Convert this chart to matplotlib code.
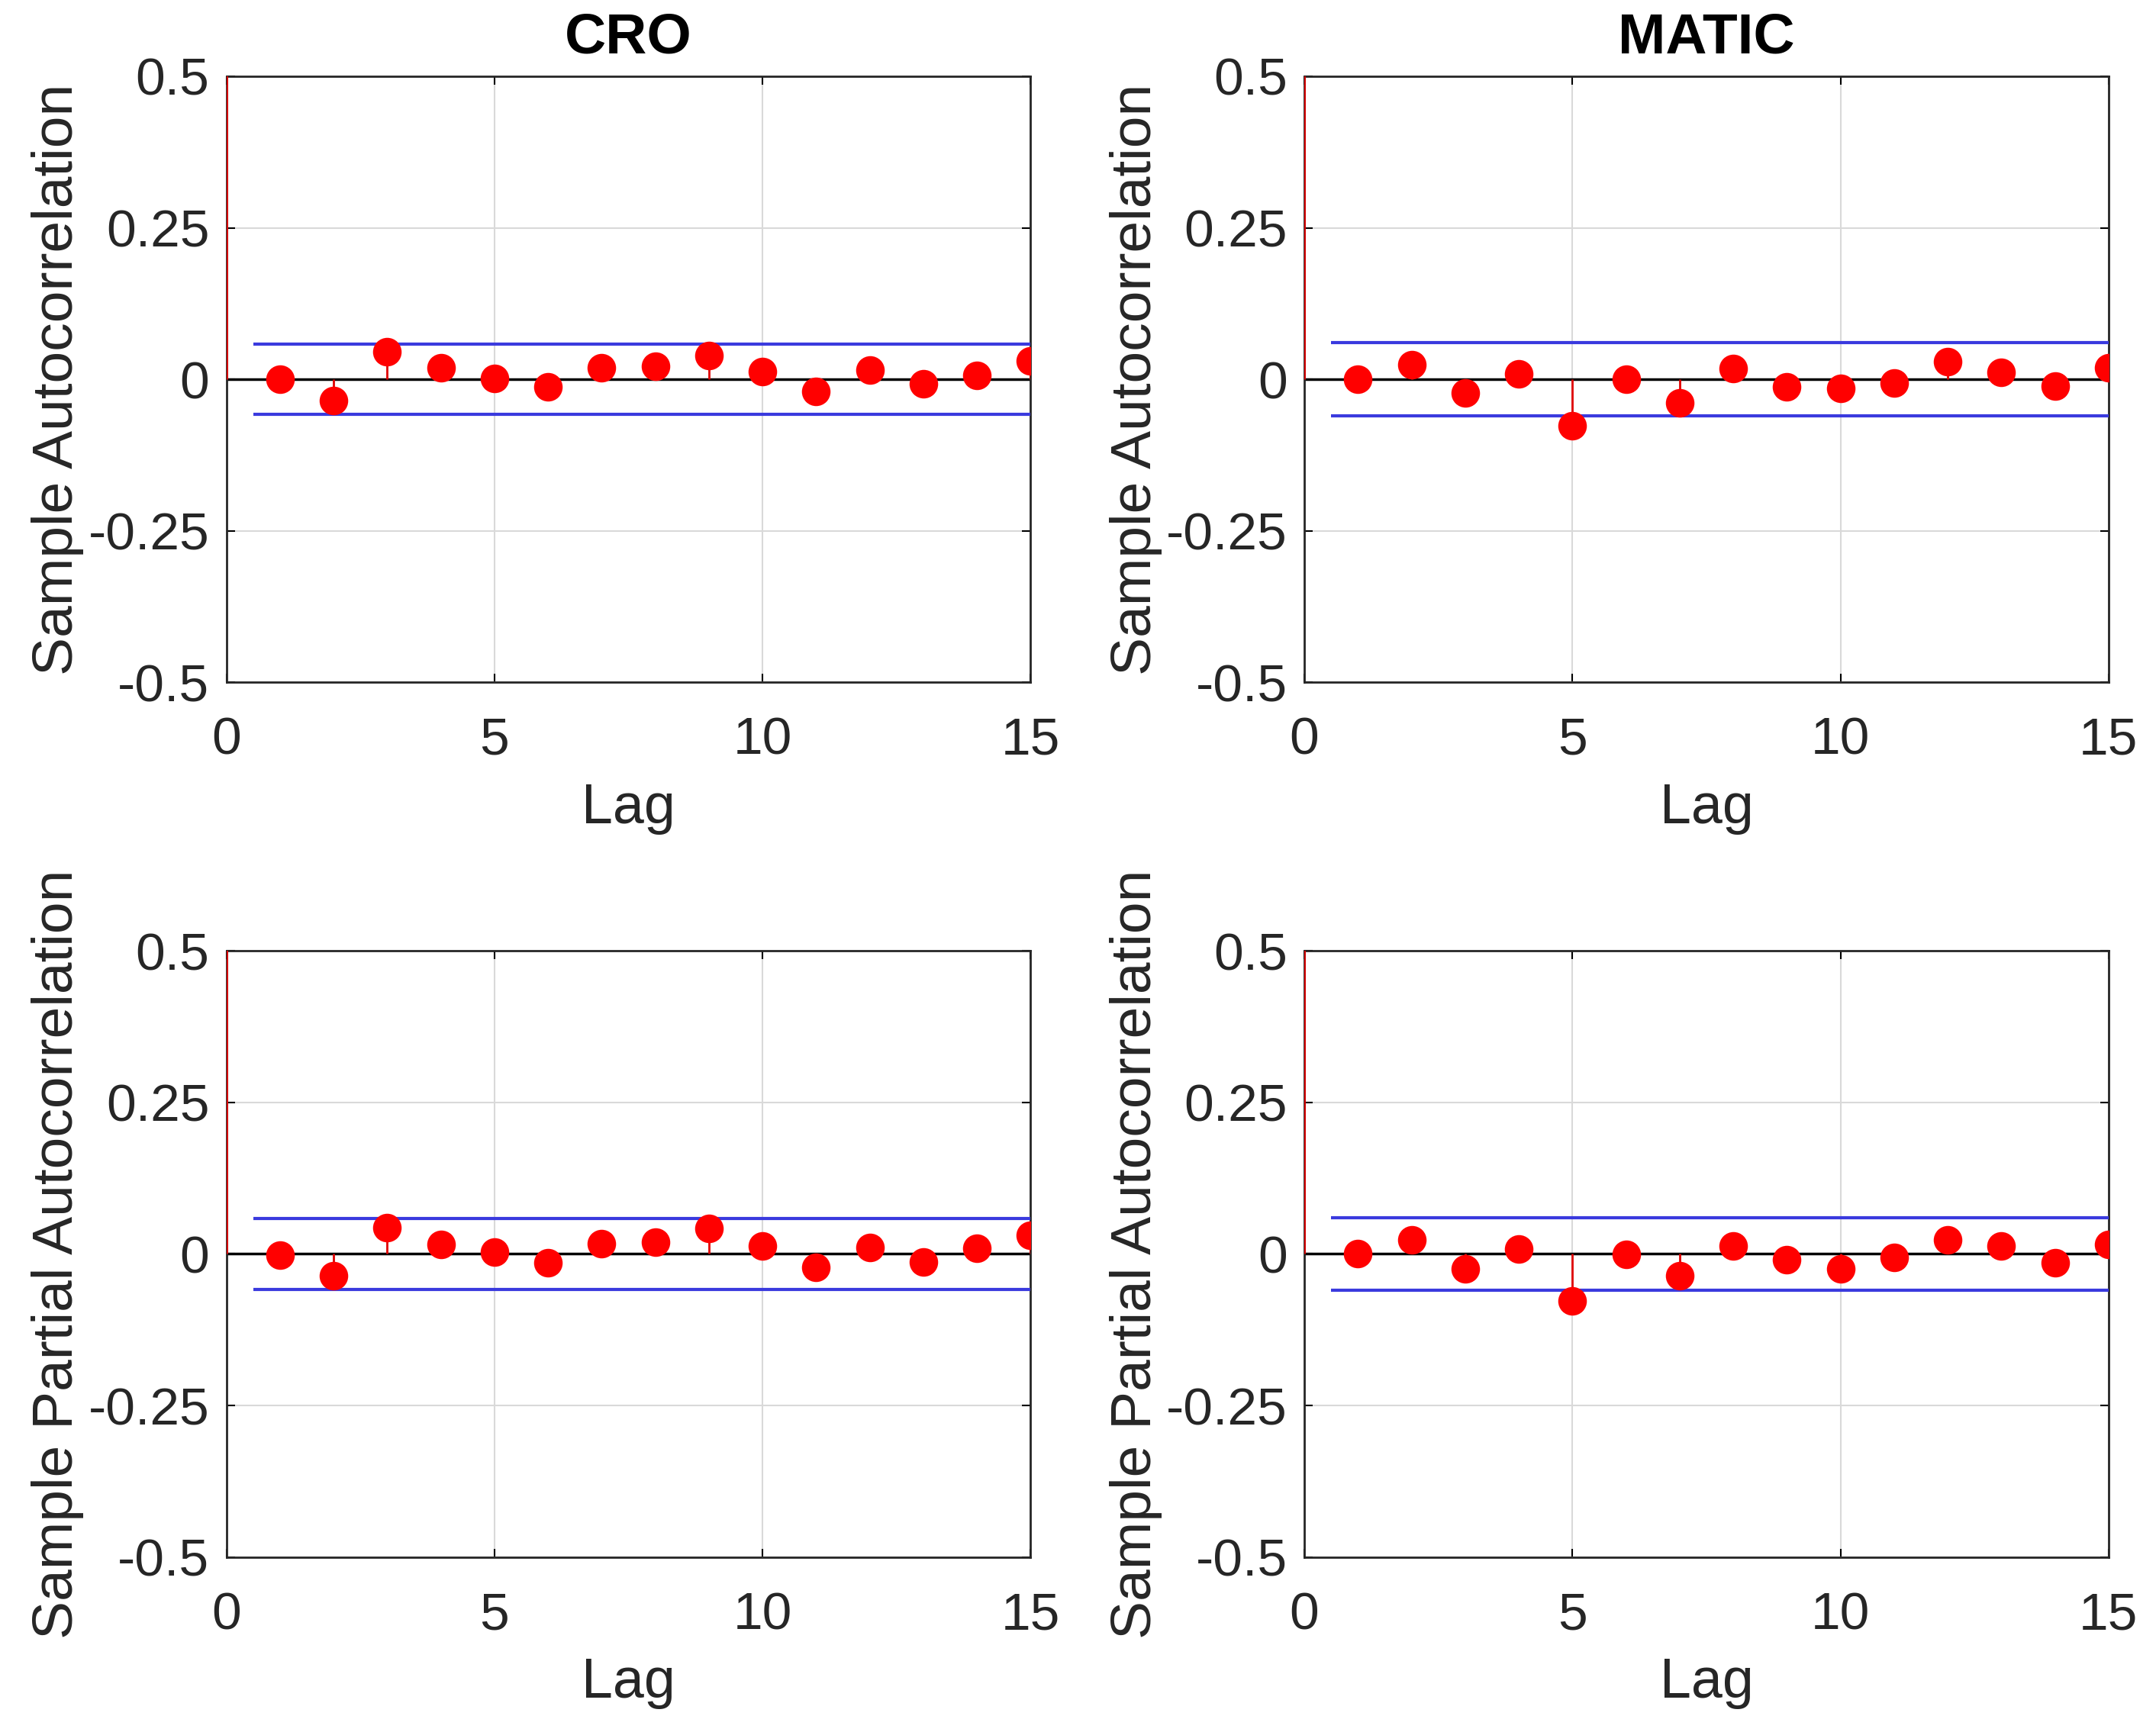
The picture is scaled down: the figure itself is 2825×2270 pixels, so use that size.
#!/usr/bin/env python3
"""Sample ACF / PACF stem charts for CRO and MATIC returns."""

import matplotlib
matplotlib.use("Agg")
import matplotlib.pyplot as plt


LAGS = list(range(0, 16))

# lag 0 is always 1 (clipped by the y-limits)
CRO_ACF = [1.0, 0.000, -0.035, 0.045, 0.019, 0.001, -0.012, 0.019, 0.022,
           0.039, 0.013, -0.020, 0.015, -0.008, 0.006, 0.031]
MATIC_ACF = [1.0, 0.000, 0.024, -0.022, 0.009, -0.076, 0.000, -0.039, 0.018,
             -0.012, -0.015, -0.006, 0.029, 0.012, -0.011, 0.019]
CRO_PACF = [1.0, -0.002, -0.036, 0.044, 0.016, 0.003, -0.014, 0.017, 0.020,
            0.042, 0.013, -0.022, 0.011, -0.013, 0.009, 0.031]
MATIC_PACF = [1.0, 0.000, 0.023, -0.024, 0.008, -0.078, -0.001, -0.036, 0.013,
              -0.009, -0.024, -0.006, 0.023, 0.013, -0.015, 0.016]

CRO_BOUND = 0.058
MATIC_BOUND = 0.060

TITLES = ["CRO", "MATIC"]
YLABELS = ["Sample Autocorrelation", "Sample Partial Autocorrelation"]
XTICKS = [0, 5, 10, 15]
YTICKS = [-0.5, -0.25, 0, 0.25, 0.5]
YTICKLABELS = ["-0.5", "-0.25", "0", "0.25", "0.5"]

plt.rcParams["font.family"] = ["Liberation Sans", "DejaVu Sans"]


def draw_panel(ax, values, bound, ylabel, title=None):
    ax.grid(True, color="#d9d9d9", linewidth=1.5)
    ax.set_axisbelow(True)
    ax.axhline(0, color="black", linewidth=2.5, zorder=2)
    ax.vlines(LAGS, 0, values, color="#e00000", linewidth=2.0, zorder=3)
    ax.plot(LAGS[1:], values[1:], "o", color="red", markersize=27,
            markeredgewidth=0, zorder=4)
    ax.hlines([bound, -bound], 0.5, 15, color="#3a3ade", linewidth=3, zorder=3)

    ax.set_xlim(0, 15)
    ax.set_ylim(-0.5, 0.5)
    ax.set_xticks(XTICKS)
    ax.set_yticks(YTICKS)
    ax.set_yticklabels(YTICKLABELS)
    ax.tick_params(direction="in", length=8, width=1.5, top=True, right=True,
                   labelsize=50, labelcolor="#262626")
    ax.tick_params(axis="x", pad=32)
    ax.tick_params(axis="y", pad=16)
    for sp in ax.spines.values():
        sp.set_linewidth(2)
        sp.set_color("#262626")
    ax.set_xlabel("Lag", fontsize=53, color="#262626", labelpad=16)
    ax.set_ylabel(ylabel, fontsize=54, color="#262626", labelpad=4)
    if title:
        ax.set_title(title, fontsize=54, fontweight="bold", pad=22)


def main():
    fig = plt.figure(figsize=(28.25, 22.70), dpi=100)
    lefts = [0.105, 0.605]
    width = 0.373
    bottoms = [0.606, 0.101]
    height = 0.350

    data = [
        [(CRO_ACF, CRO_BOUND), (MATIC_ACF, MATIC_BOUND)],
        [(CRO_PACF, CRO_BOUND), (MATIC_PACF, MATIC_BOUND)],
    ]

    for r in range(2):
        for c in range(2):
            ax = fig.add_axes([lefts[c], bottoms[r], width, height])
            vals, bound = data[r][c]
            draw_panel(ax, vals, bound, YLABELS[r], TITLES[c] if r == 0 else None)

    fig.savefig("out.png", dpi=100)
    plt.close(fig)
    return 0


if __name__ == "__main__":
    raise SystemExit(main())
